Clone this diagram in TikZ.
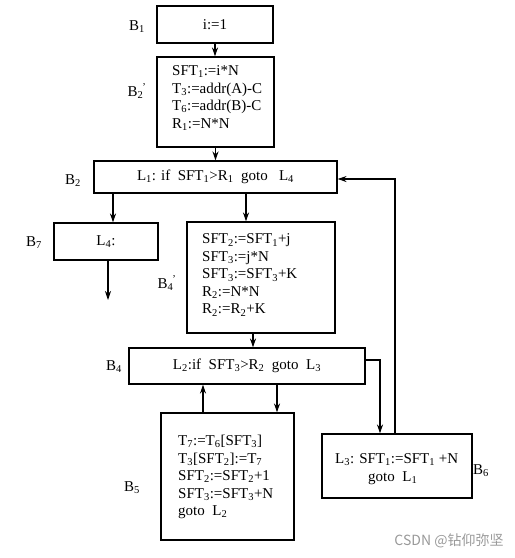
\documentclass[tikz,border=0pt]{standalone}
\usepackage{fontspec}
\setmainfont{Liberation Serif}
\newfontfamily\cjk{Noto Sans CJK SC}
\usetikzlibrary{arrows.meta}
\newcommand\lo[1]{\textsubscript{#1}}
\newcommand\blab[1]{B\textsubscript{#1}}
\newcommand\bplab[1]{B\textsubscript{#1}\kern-1pt\textsuperscript{’}}
\begin{document}
\begin{tikzpicture}[x=1pt,y=-1pt,
  box/.style={draw,line width=1.1pt,inner sep=0pt,font=\fontsize{15}{17.5}\selectfont},
  txt/.style={inner sep=0pt,anchor=west,align=left,font=\fontsize{15}{17.5}\selectfont},
  lab/.style={inner sep=0pt,font=\fontsize{15}{17}\selectfont},
  conn/.style={line width=1.1pt,-{Stealth[length=9pt,width=6pt]}},
  wire/.style={line width=1.1pt}]
\useasboundingbox (0,0) rectangle (515,558);

% boxes
\node[box,minimum width=116pt,minimum height=37pt] (b1) at (215,24.5) {i:=1};
\node[box,minimum width=117pt,minimum height=90pt] (b2p) at (215.5,102) {};
\node[txt] (t2p) at (172,98) {SFT\lo1:=i*N\\T\lo3:=addr(A)-C\\T\lo6:=addr(B)-C\\R\lo1:=N*N};
\node[box,minimum width=243pt,minimum height=32pt] (b2) at (215.5,177)
  {L\lo1: if\ \ SFT\lo1>R\lo1\ \ goto\ \ \ L\lo4};
\node[box,minimum width=104pt,minimum height=37pt] (b7) at (106,241.5) {L\lo4:\ };
\node[box,minimum width=148pt,minimum height=111pt] (b4p) at (261,277.5) {};
\node[txt] (t4p) at (202,275) {SFT\lo2:=SFT\lo1+j\\SFT\lo3:=j*N\\SFT\lo3:=SFT\lo3+K\\R\lo2:=N*N\\R\lo2:=R\lo2+K};
\node[box,minimum width=236pt,minimum height=36pt] (b4) at (247,366)
  {L\lo2:if\ \ SFT\lo3>R\lo2\ \ goto\ \ L\lo3};
\node[box,minimum width=133pt,minimum height=127pt] (b5) at (227.5,476.5) {};
\node[txt] (t5) at (178,477) {T\lo7:=T\lo6[SFT\lo3]\\T\lo3[SFT\lo2]:=T\lo7\\SFT\lo2:=SFT\lo2+1\\SFT\lo3:=SFT\lo3+N\\goto\ \ L\lo2};
\node[box,minimum width=150pt,minimum height=64pt] (b6) at (397,466) {};
\node[txt] (t6) at (335,469) {L\lo3: SFT\lo1:=SFT\lo1 +N\\\hspace*{33pt}goto\ \ L\lo1};

% labels
\node[lab] (l1) at (137,27) {\blab{1}};
\node[lab] (l2p) at (137,91) {\bplab{2}};
\node[lab] (l2) at (73,181) {\blab{2}};
\node[lab] (l7) at (34,243) {\blab{7}};
\node[lab] (l4p) at (167,283) {\bplab{4}};
\node[lab] (l4) at (114,367) {\blab{4}};
\node[lab] (l5) at (132,488) {\blab{5}};
\node[lab] (l6) at (481,471) {\blab{6}};

% connectors
\draw[conn] (b1.south) -- (b1.south |- b2p.north);
\draw[conn] (b2p.south) -- (b2p.south |- b2.north);
\draw[conn] (113,0 |- b2.south) -- (113,0 |- b7.north);
\draw[conn] (246,0 |- b2.south) -- (246,0 |- b4p.north);
\coordinate (b7out) at (108,300);
\draw[conn] (108,0 |- b7.south) -- (b7out);
\draw[conn] (253,0 |- b4p.south) -- (253,0 |- b4.north);
\draw[conn] (277,0 |- b4.south) -- (277,0 |- b5.north);
\draw[conn] (203,0 |- b5.north) -- (203,0 |- b4.south);
\draw[conn] ([yshift=6pt]b4.east) -| (380,0 |- b6.north);
\draw[conn] (395,0 |- b6.north) |- ([yshift=-2pt]b2.east);

% watermark
\node[inner sep=0pt,text=black!40,font=\cjk\fontsize{14}{16}\selectfont] (wm) at (449,541) {CSDN @钻仰弥坚};
\end{tikzpicture}
\end{document}
